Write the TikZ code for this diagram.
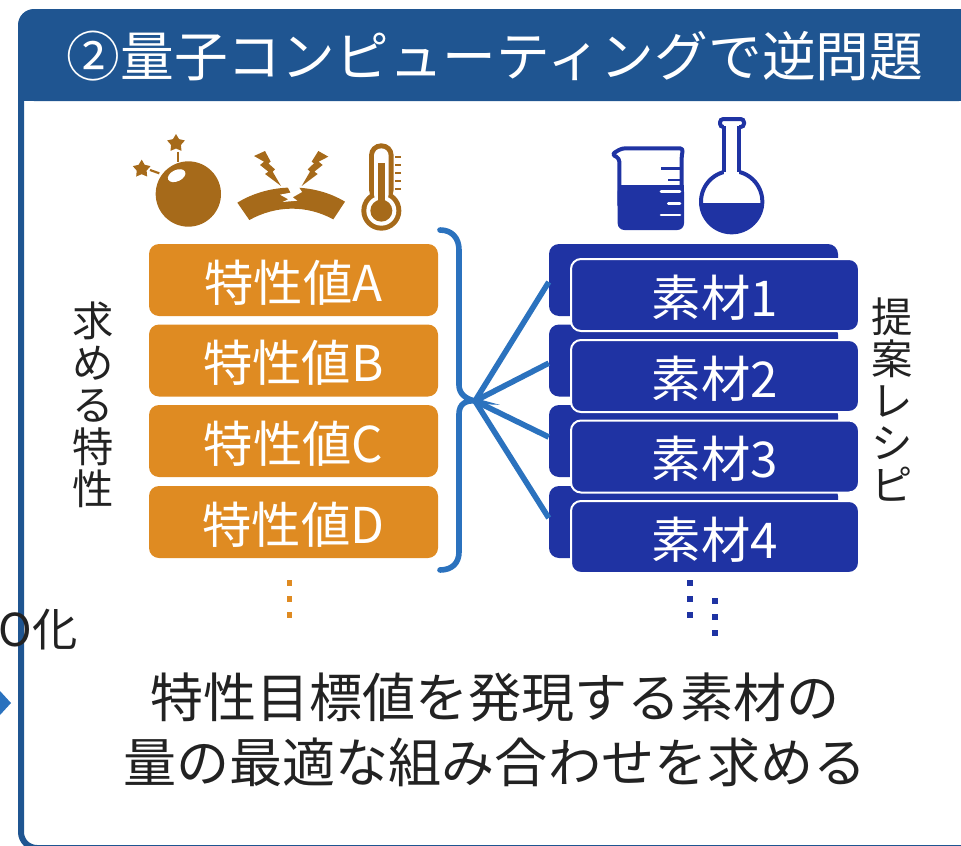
\documentclass[tikz,border=0pt]{standalone}
\usepackage{fontspec}
\setmainfont{Noto Sans CJK JP}
\usepackage{tikz}
\usetikzlibrary{shapes.geometric}
\definecolor{framecol}{HTML}{1F5591}
\definecolor{ambercol}{HTML}{DF8B22}
\definecolor{browncol}{HTML}{A66A1A}
\definecolor{navycol}{HTML}{1F33A3}
\definecolor{linecol}{HTML}{2B72BE}
\definecolor{inkcol}{HTML}{222222}
\newcommand{\lowered}[1]{\raisebox{-16pt}[0pt][0pt]{#1}}

\begin{document}
\begin{tikzpicture}[
    x=0.75pt, y=-0.75pt,
    spec/.style={rectangle, rounded corners=7.5pt, fill=ambercol, text=white, minimum width=216.75pt,
                 minimum height=54pt, inner sep=0pt, font=\fontsize{37}{37}\selectfont},
    backbox/.style={rectangle, rounded corners=7.5pt, fill=navycol, minimum width=216.75pt,
                 minimum height=54pt, inner sep=0pt},
    frontbox/.style={rectangle, rounded corners=7.5pt, fill=navycol, draw=white, line width=1.5pt, text=white,
                 minimum width=216pt, minimum height=54pt, inner sep=0pt, font=\fontsize{37}{37}\selectfont},
    side/.style={text=inkcol, align=center, inner sep=0pt, font=\fontsize{31}{31.5}\selectfont},
    caption/.style={text=inkcol, align=center, inner sep=0pt, font=\fontsize{39.8}{48.75}\selectfont},
    fan/.style={linecol, line width=4.2pt},
    tinydot/.style={rectangle, minimum size=4.2pt, inner sep=0pt},
    burst/.style={star, star points=5, star point ratio=1.8, fill=browncol, minimum size=14pt, inner sep=0pt}
]
    \useasboundingbox (0,0) rectangle (961,846);

    % Frame and header
    \draw[framecol, line width=4.5pt, rounded corners=12pt] (970,848) -- (21,848) -- (21,12) -- (970,12);
    \fill[framecol, rounded corners=12pt] (18,9) rectangle (975,101);
    \fill[framecol] (18,60) rectangle (975,101);
    \node[text=white, inner sep=0pt, font=\fontsize{40.3}{40}\selectfont] (title) at (495,56) {②量子コンピューティングで逆問題};

    % Cut off on the left
    \node[text=inkcol, anchor=east, inner sep=0pt, font=\fontsize{34}{34}\selectfont] (cutoff) at (78,630) {O化};
    \fill[linecol] (0,691) -- (11,703) -- (0,715) -- cycle;

    % Properties
    \node[spec] (specA) at (293.5,280) {\lowered{特性値A}};
    \node[spec] (specB) at (293.5,360.5) {\lowered{特性値B}};
    \node[spec] (specC) at (293.5,441) {\lowered{特性値C}};
    \node[spec] (specD) at (293.5,522) {\lowered{特性値D}};
    \node[side] (wanted) at (93,405) {求\\め\\る\\特\\性};
    \foreach \y/\name in {583/a, 599/b, 615/c}
        \node[tinydot, fill=ambercol] (orange\name) at (289.5,\y) {};

    % Bracket
    \coordinate (hub) at (475,401);
    \draw[fan, line cap=round] (440,230) .. controls (452,230) and (459,238) .. (459,250) -- (459,385)
        .. controls (459,394) and (466,399) .. (hub)
        .. controls (466,400) and (459,404) .. (459,414) -- (459,552)
        .. controls (459,563) and (452,570) .. (440,570);

    % Materials
    \node[backbox] (back1) at (693.5,280) {};
    \node[backbox] (back2) at (693.5,360.5) {};
    \node[backbox] (back3) at (693.5,441) {};
    \node[backbox] (back4) at (693.5,522) {};
    \draw[fan] (hub) -- ([yshift=-1.5pt]back1.west);
    \draw[fan] (hub) -- ([yshift=-2pt]back2.west);
    \draw[fan] (hub) -- ([yshift=3pt]back3.west);
    \draw[fan] (hub) -- ([yshift=3pt]back4.west);
    \node[frontbox] (mat1) at (715,295) {\lowered{素材1}};
    \node[frontbox] (mat2) at (715,376) {\lowered{素材2}};
    \node[frontbox] (mat3) at (715,456.5) {\lowered{素材3}};
    \node[frontbox] (mat4) at (715,537) {\lowered{素材4}};
    \node[side] (recipe) at (892,400) {提\\案\\レ\\シ\\ピ};
    \foreach \y/\name in {583/a, 599/b, 615/c}
        \node[tinydot, fill=navycol] (navyl\name) at (690,\y) {};
    \foreach \y/\name in {601/a, 617/b, 633/c}
        \node[tinydot, fill=navycol] (navyr\name) at (715,\y) {};

    % Bottom text
    \node[caption] (goal) at (495,730) {特性目標値を発現する素材の\\量の最適な組み合わせを求める};

    % Icons left, numbers read from a 3x crop
    \begin{scope}[shift={(120,110)}, x=0.25pt, y=-0.25pt]
        \fill[browncol] (205,252) circle[radius=98];
        \fill[white, rotate around={25:(170,197)}] (170,197) ellipse[x radius=28, y radius=17];
        \node[burst] (star1) at (168,100) {};
        \node[burst] (star2) at (65,177) {};
        \draw[browncol, line width=1.6pt] (175,125) -- (175,155);
        \draw[browncol, line width=1.6pt] (90,180) -- (118,190);
        % cracked arc
        \fill[browncol] (352,278) .. controls (450,218) and (580,218) .. (675,275) -- (640,328)
            .. controls (560,285) and (470,285) .. (388,330) -- cycle;
        \fill[white] (500,226) -- (512,248) -- (480,254) -- (505,268) -- (488,276) -- (532,272)
            -- (518,262) -- (546,246) -- (533,226) -- cycle;
        % bolts
        \fill[browncol] (402,138) -- (435,123) -- (452,155) -- (445,160) -- (465,178) -- (458,185) -- (483,228)
            -- (435,192) -- (445,185) -- (420,165) -- (432,155) -- cycle;
        \fill[browncol] (625,140) -- (595,123) -- (575,155) -- (582,160) -- (563,178) -- (570,185) -- (545,228)
            -- (593,192) -- (583,185) -- (608,165) -- (596,155) -- cycle;
        % thermometer
        \fill[browncol] (784,302) circle[radius=60];
        \fill[browncol, rounded corners=9pt] (747,100) rectangle (821,275);
        \fill[white] (784,302) circle[radius=45];
        \fill[white, rounded corners=5.5pt] (762,115) rectangle (806,275);
        \fill[browncol] (784,302) circle[radius=33];
        \fill[browncol] (775,160) rectangle (795,300);
        \foreach \y in {142,166,190,214,238}
            \fill[browncol] (825,\y-3) rectangle (842,\y+3);
    \end{scope}

    % Icons right
    \begin{scope}[shift={(590,105)}, x=0.25pt, y=-0.25pt]
        % beaker
        \fill[navycol, rounded corners=5pt] (83,240) rectangle (282,375);
        \fill[navycol] (83,240) rectangle (282,300);
        \draw[navycol, line width=3pt, line join=round, line cap=round, rounded corners=2.5pt] (88,300) -- (88,160) -- (65,148) -- (95,130)
            -- (280,130) -- (275,150) -- (275,300);
        \draw[navycol, line width=2pt] (213,190) -- (272,190);
        \draw[navycol, line width=2pt] (235,225) -- (272,225);
        \foreach \y/\xs in {260/213, 295/235, 330/213}
            \draw[white, line width=2pt, line cap=round] (\xs,\y) -- (270,\y);
        % flask
        \draw[navycol, line width=3pt, fill=white] (425,290) circle[radius=92];
        \begin{scope}
            \clip (425,290) circle[radius=92];
            \fill[navycol] (320,295) rectangle (530,390);
        \end{scope}
        \draw[navycol, line width=3pt, fill=white, rounded corners=2.5pt] (390,42) rectangle (462,66);
        \fill[white] (403,60) rectangle (447,215);
        \draw[navycol, line width=3pt] (403,64) -- (403,200);
        \draw[navycol, line width=3pt] (447,64) -- (447,200);
    \end{scope}
\end{tikzpicture}
\end{document}
